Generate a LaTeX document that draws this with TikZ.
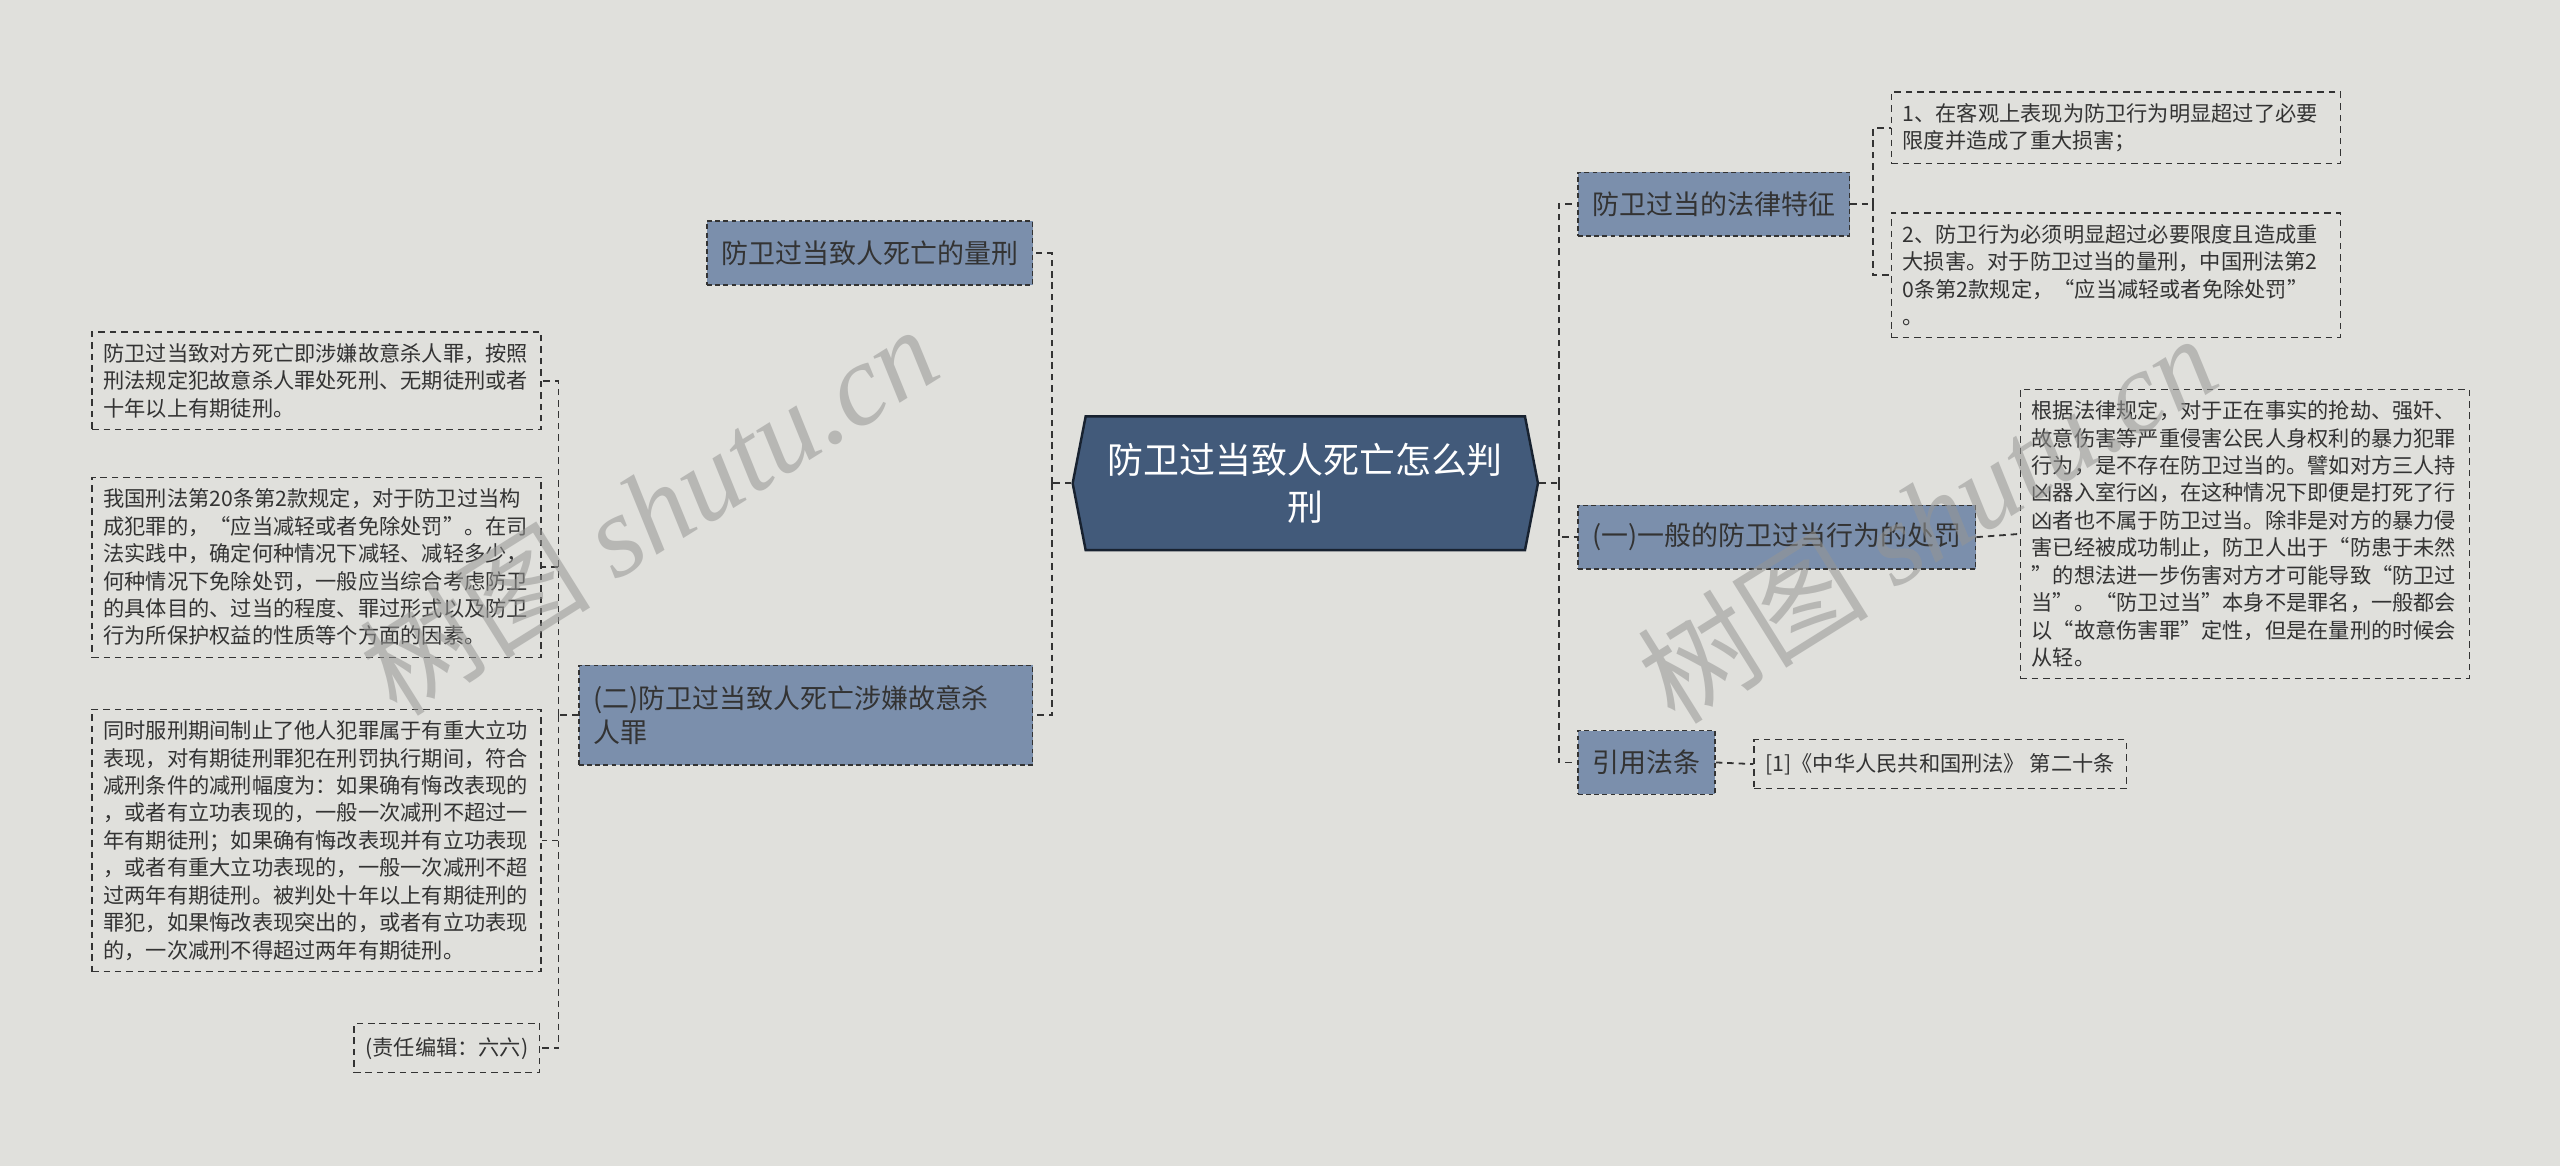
\documentclass[tikz,border=0pt]{standalone}
\usepackage{fontspec}
\setmainfont{Noto Sans CJK SC}
\newfontfamily\wmlatin{Liberation Serif}
\usetikzlibrary{shapes.symbols}
\definecolor{bgc}{RGB}{224,224,220}
\definecolor{rootc}{RGB}{66,90,122}
\definecolor{rootb}{RGB}{24,34,48}
\definecolor{subc}{RGB}{123,143,172}
\definecolor{txtc}{RGB}{51,51,51}
\definecolor{wmc}{RGB}{150,150,148}
\begin{document}
\begin{tikzpicture}[x=1pt,y=-1pt,
    link/.style={draw=txtc,line width=1.1pt,dash pattern=on 4pt off 3pt},
    sub/.style={draw=txtc,fill=subc,dash pattern=on 3pt off 2pt,line width=0.9pt,text=txtc,inner xsep=9pt,minimum height=39pt,font=\fontsize{16.5}{21}\selectfont},
    leaf/.style={draw=txtc,dash pattern=on 4pt off 3pt,line width=0.8pt,text=txtc,inner xsep=7pt,inner ysep=7pt,align=left,font=\fontsize{13}{16.8}\selectfont},
    wm/.style={text=wmc,text opacity=0.55,rotate=32,font=\fontsize{71}{71}\selectfont}]
      \fill[bgc] (0,0) rectangle (1568,714);%
      \useasboundingbox (0,0) rectangle (1568,714);%

      \node[shape=signal,signal to=west and east,signal pointer angle=158,fill=rootc,draw=rootb,line width=1.5pt,minimum width=285pt,minimum height=82pt,text=white,text width=250pt,align=center,font=\fontsize{22}{29}\selectfont] (R) at (799.5,296) {防卫过当致人死亡怎么判\\刑};%

      \node[sub,anchor=east] (Q1) at (633,155) {防卫过当致人死亡的量刑};%
      \node[sub,anchor=east,text width=260pt,align=left,minimum height=61pt] (Q2) at (633,438) {(二)防卫过当致人死亡涉嫌故意杀\\人罪};%

      \node[leaf,text width=261pt,anchor=north west] (N1) at (56,203) {防卫过当致对方死亡即涉嫌故意杀人罪，按照\\刑法规定犯故意杀人罪处死刑、无期徒刑或者\\十年以上有期徒刑。};%
      \node[leaf,text width=261pt,anchor=north west] (N2) at (56,292) {我国刑法第20条第2款规定，对于防卫过当构\\成犯罪的，“应当减轻或者免除处罚”。在司\\法实践中，确定何种情况下减轻、减轻多少，\\何种情况下免除处罚，一般应当综合考虑防卫\\的具体目的、过当的程度、罪过形式以及防卫\\行为所保护权益的性质等个方面的因素。};%
      \node[leaf,text width=261pt,anchor=north west] (N3) at (56,434) {同时服刑期间制止了他人犯罪属于有重大立功\\表现，对有期徒刑罪犯在刑罚执行期间，符合\\减刑条件的减刑幅度为：如果确有悔改表现的\\，或者有立功表现的，一般一次减刑不超过一\\年有期徒刑；如果确有悔改表现并有立功表现\\，或者有重大立功表现的，一般一次减刑不超\\过两年有期徒刑。被判处十年以上有期徒刑的\\罪犯，如果悔改表现突出的，或者有立功表现\\的，一次减刑不得超过两年有期徒刑。};%
      \node[leaf,anchor=east,minimum height=30pt] (N4) at (331,642) {(责任编辑：六六)};%

      \node[sub,anchor=west] (T1) at (966,125) {防卫过当的法律特征};%
      \node[sub,anchor=west] (T2) at (966,329) {(一)一般的防卫过当行为的处罚};%
      \node[sub,anchor=west] (T3) at (966,467) {引用法条};%

      \node[leaf,text width=261pt,anchor=north west] (S1) at (1158,56) {1、在客观上表现为防卫行为明显超过了必要\\限度并造成了重大损害；};%
      \node[leaf,text width=261pt,anchor=north west] (S2) at (1158,130) {2、防卫行为必须明显超过必要限度且造成重\\大损害。对于防卫过当的量刑，中国刑法第2\\0条第2款规定，“应当减轻或者免除处罚”\\。};%
      \node[leaf,text width=261pt,anchor=north west] (S3) at (1237,238) {根据法律规定，对于正在事实的抢劫、强奸、\\故意伤害等严重侵害公民人身权利的暴力犯罪\\行为，是不存在防卫过当的。譬如对方三人持\\凶器入室行凶，在这种情况下即便是打死了行\\凶者也不属于防卫过当。除非是对方的暴力侵\\害已经被成功制止，防卫人出于“防患于未然\\”的想法进一步伤害对方才可能导致“防卫过\\当”。“防卫过当”本身不是罪名，一般都会\\以“故意伤害罪”定性，但是在量刑的时候会\\从轻。};%
      \node[leaf,anchor=west,minimum height=30pt] (S4) at (1074,468) {[1]《中华人民共和国刑法》 第二十条};%

      \draw[link] (R.west) -- ++(-12,0) coordinate (LB);%
      \draw[link] (LB) |- (Q1.east);%
      \draw[link] (LB) |- (Q2.east);%

      \draw[link] (Q2.west) -- ++(-12,0) coordinate (KB);%
      \draw[link] (KB) |- (N1.east);%
      \draw[link] (KB) |- (N2.east);%
      \draw[link] (KB) |- (N3.east);%
      \draw[link] (KB) |- (N4.east);%

      \draw[link] (R.east) -- ++(12,0) coordinate (RB);%
      \draw[link] (RB) |- (T1.west);%
      \draw[link] (RB) |- (T2.west);%
      \draw[link] (RB) |- (T3.west);%

      \draw[link] (T1.east) -- ++(14,0) coordinate (FB);%
      \draw[link] (FB) |- (S1.west);%
      \draw[link] (FB) |- (S2.west);%
      \draw[link] (T2.east) -- (S3.west);%
      \draw[link] (T3.east) -- (S4.west);%

      \node[wm] (W1) at (397,312) {树图 {\wmlatin\itshape shutu.cn}};%
      \node[wm] (W2) at (1180,317) {树图 {\wmlatin\itshape shutu.cn}};%
    \end{tikzpicture}
\end{document}
